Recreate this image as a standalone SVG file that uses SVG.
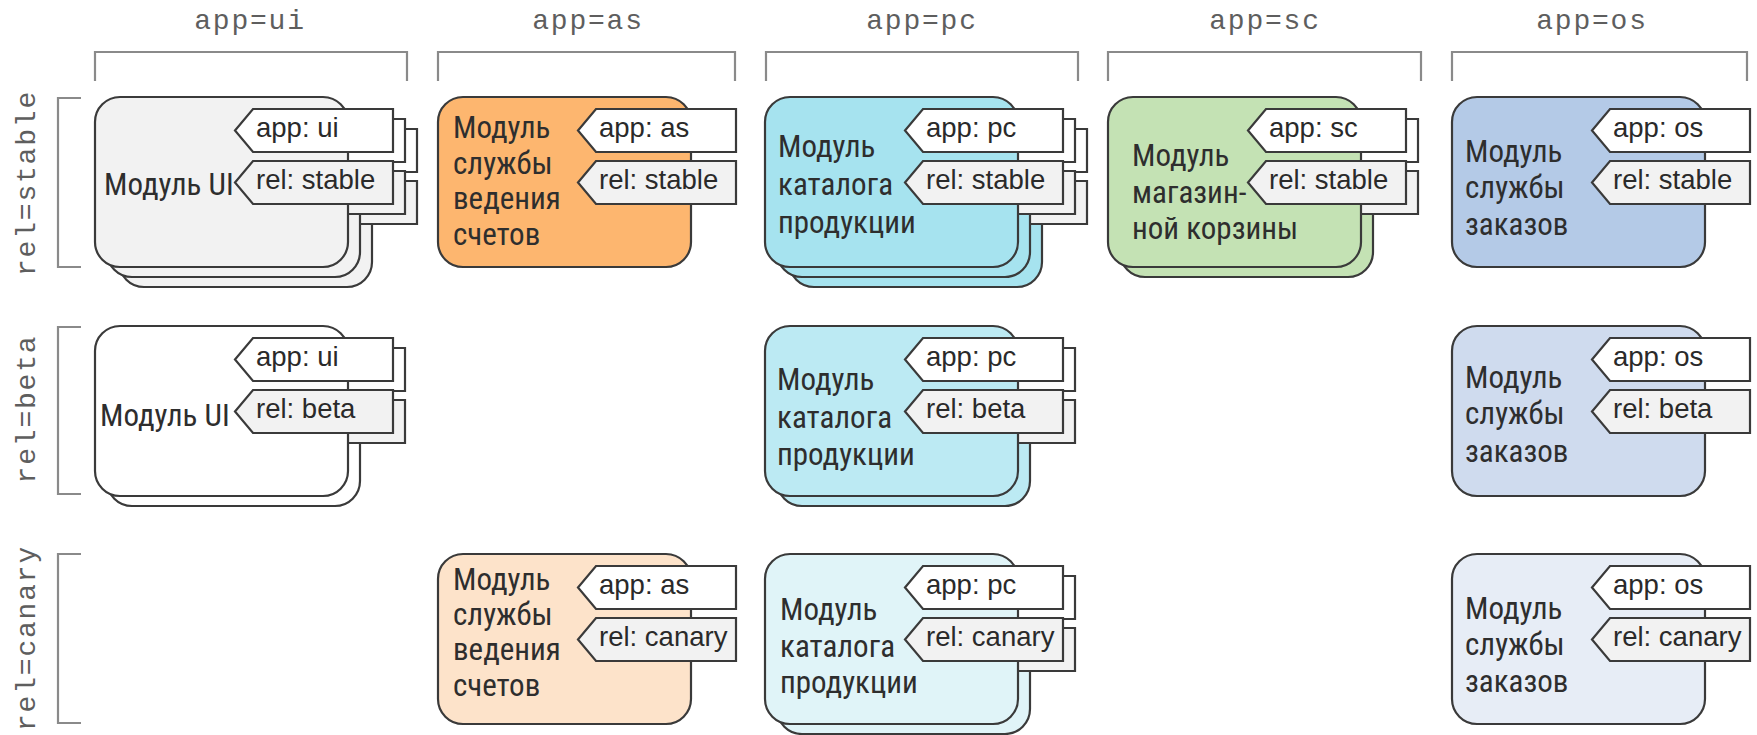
<svg xmlns="http://www.w3.org/2000/svg" xmlns:xlink="http://www.w3.org/1999/xlink" width="1757" height="735" viewBox="0 0 1757 735">
<style>
.bk{fill:none;stroke:#8a8a8a;stroke-width:2.2}
.lbl{font-family:"Liberation Mono","DejaVu Sans Mono",monospace;font-size:28px;letter-spacing:1.8px;fill:#5e5e5e}
.cd{stroke:#3a3a3a;stroke-width:2.2}
.ta{fill:#ffffff;stroke:#3a3a3a;stroke-width:2.2}
.tr{fill:#f2f2f2;stroke:#3a3a3a;stroke-width:2.2}
.tt{font-family:"Liberation Sans",Arial,sans-serif;font-size:27.5px;fill:#2a2a2a}
.nt{font-family:"Liberation Sans Narrow","Roboto Condensed","Liberation Sans",sans-serif;font-size:31px;fill:#2e2e2e}
.f-ui1{fill:#f2f2f2}.f-ui2{fill:#ffffff}
.f-as1{fill:#fdb66f}.f-as3{fill:#fde3ca}
.f-pc1{fill:#a6e3ef}.f-pc2{fill:#bceaf3}.f-pc3{fill:#e0f4f8}
.f-sc1{fill:#c4e2b4}
.f-os1{fill:#b4cae7}.f-os2{fill:#cfdbee}.f-os3{fill:#e7edf6}
</style>
<defs>
<rect id="card" x="0" y="0" width="253" height="170" rx="25" ry="25"/>
<polygon id="tag" points="140,21.5 158,0 298,0 298,43 158,43"/>
<g id="tags">
<use xlink:href="#tag" class="ta" y="12"/>
<use xlink:href="#tag" class="tr" y="64"/>
</g>
</defs>

<g id="labels">
<text class="lbl" x="250" y="29" text-anchor="middle">app=ui</text>
<text class="lbl" x="588" y="29" text-anchor="middle">app=as</text>
<text class="lbl" x="922" y="29" text-anchor="middle">app=pc</text>
<text class="lbl" x="1265" y="29" text-anchor="middle">app=sc</text>
<text class="lbl" x="1592" y="29" text-anchor="middle">app=os</text>
<text class="lbl" transform="translate(35,183) rotate(-90)" text-anchor="middle">rel=stable</text>
<text class="lbl" transform="translate(35,409) rotate(-90)" text-anchor="middle">rel=beta</text>
<text class="lbl" transform="translate(35,638) rotate(-90)" text-anchor="middle">rel=canary</text>
</g>

<g id="brackets">
<path class="bk" d="M95,81V52H407V81"/>
<path class="bk" d="M438,81V52H735V81"/>
<path class="bk" d="M766,81V52H1078V81"/>
<path class="bk" d="M1108,81V52H1421V81"/>
<path class="bk" d="M1452,81V52H1747V81"/>
<path class="bk" d="M81,98H58V267H81"/>
<path class="bk" d="M81,327H58V494H81"/>
<path class="bk" d="M81,554H58V723H81"/>
</g>

<g id="node-ui-stable" transform="translate(95,97)">
<g transform="translate(24,20)"><use xlink:href="#card" class="cd f-ui1"/><use xlink:href="#tags"/></g>
<g transform="translate(12,10)"><use xlink:href="#card" class="cd f-ui1"/><use xlink:href="#tags"/></g>
<use xlink:href="#card" class="cd f-ui1"/><use xlink:href="#tags"/>
<text class="tt" x="161" y="40">app: ui</text><text class="tt" x="161" y="92">rel: stable</text>
<text class="nt" x="9" y="98">Модуль UI</text>
</g>

<g id="node-ui-beta" transform="translate(95,326)">
<g transform="translate(12,10)"><use xlink:href="#card" class="cd f-ui2"/><use xlink:href="#tags"/></g>
<use xlink:href="#card" class="cd f-ui2"/><use xlink:href="#tags"/>
<text class="tt" x="161" y="40">app: ui</text><text class="tt" x="161" y="92">rel: beta</text>
<text class="nt" x="5" y="100">Модуль UI</text>
</g>

<g id="node-as-stable" transform="translate(438,97)">
<use xlink:href="#card" class="cd f-as1"/><use xlink:href="#tags"/>
<text class="tt" x="161" y="40">app: as</text><text class="tt" x="161" y="92">rel: stable</text>
<text class="nt" x="15" y="41">Модуль</text><text class="nt" x="15" y="77">службы</text><text class="nt" x="15" y="112">ведения</text><text class="nt" x="15" y="148">счетов</text>
</g>

<g id="node-as-canary" transform="translate(438,554)">
<use xlink:href="#card" class="cd f-as3"/><use xlink:href="#tags"/>
<text class="tt" x="161" y="40">app: as</text><text class="tt" x="161" y="92">rel: canary</text>
<text class="nt" x="15" y="36">Модуль</text><text class="nt" x="15" y="71">службы</text><text class="nt" x="15" y="106">ведения</text><text class="nt" x="15" y="142">счетов</text>
</g>

<g id="node-pc-stable" transform="translate(765,97)">
<g transform="translate(24,20)"><use xlink:href="#card" class="cd f-pc1"/><use xlink:href="#tags"/></g>
<g transform="translate(12,10)"><use xlink:href="#card" class="cd f-pc1"/><use xlink:href="#tags"/></g>
<use xlink:href="#card" class="cd f-pc1"/><use xlink:href="#tags"/>
<text class="tt" x="161" y="40">app: pc</text><text class="tt" x="161" y="92">rel: stable</text>
<text class="nt" x="13" y="60">Модуль</text><text class="nt" x="13" y="98">каталога</text><text class="nt" x="13" y="136">продукции</text>
</g>

<g id="node-pc-beta" transform="translate(765,326)">
<g transform="translate(12,10)"><use xlink:href="#card" class="cd f-pc2"/><use xlink:href="#tags"/></g>
<use xlink:href="#card" class="cd f-pc2"/><use xlink:href="#tags"/>
<text class="tt" x="161" y="40">app: pc</text><text class="tt" x="161" y="92">rel: beta</text>
<text class="nt" x="12" y="64">Модуль</text><text class="nt" x="12" y="102">каталога</text><text class="nt" x="12" y="139">продукции</text>
</g>

<g id="node-pc-canary" transform="translate(765,554)">
<g transform="translate(12,10)"><use xlink:href="#card" class="cd f-pc3"/><use xlink:href="#tags"/></g>
<use xlink:href="#card" class="cd f-pc3"/><use xlink:href="#tags"/>
<text class="tt" x="161" y="40">app: pc</text><text class="tt" x="161" y="92">rel: canary</text>
<text class="nt" x="15" y="66">Модуль</text><text class="nt" x="15" y="103">каталога</text><text class="nt" x="15" y="139">продукции</text>
</g>

<g id="node-sc-stable" transform="translate(1108,97)">
<g transform="translate(12,10)"><use xlink:href="#card" class="cd f-sc1"/><use xlink:href="#tags"/></g>
<use xlink:href="#card" class="cd f-sc1"/><use xlink:href="#tags"/>
<text class="tt" x="161" y="40">app: sc</text><text class="tt" x="161" y="92">rel: stable</text>
<text class="nt" x="24" y="69">Модуль</text><text class="nt" x="24" y="106">магазин-</text><text class="nt" x="24" y="142">ной корзины</text>
</g>

<g id="node-os-stable" transform="translate(1452,97)">
<use xlink:href="#card" class="cd f-os1"/><use xlink:href="#tags"/>
<text class="tt" x="161" y="40">app: os</text><text class="tt" x="161" y="92">rel: stable</text>
<text class="nt" x="13" y="65">Модуль</text><text class="nt" x="13" y="101">службы</text><text class="nt" x="13" y="138">заказов</text>
</g>

<g id="node-os-beta" transform="translate(1452,326)">
<use xlink:href="#card" class="cd f-os2"/><use xlink:href="#tags"/>
<text class="tt" x="161" y="40">app: os</text><text class="tt" x="161" y="92">rel: beta</text>
<text class="nt" x="13" y="62">Модуль</text><text class="nt" x="13" y="98">службы</text><text class="nt" x="13" y="136">заказов</text>
</g>

<g id="node-os-canary" transform="translate(1452,554)">
<use xlink:href="#card" class="cd f-os3"/><use xlink:href="#tags"/>
<text class="tt" x="161" y="40">app: os</text><text class="tt" x="161" y="92">rel: canary</text>
<text class="nt" x="13" y="65">Модуль</text><text class="nt" x="13" y="101">службы</text><text class="nt" x="13" y="138">заказов</text>
</g>

<g id="connectors"></g>
</svg>
